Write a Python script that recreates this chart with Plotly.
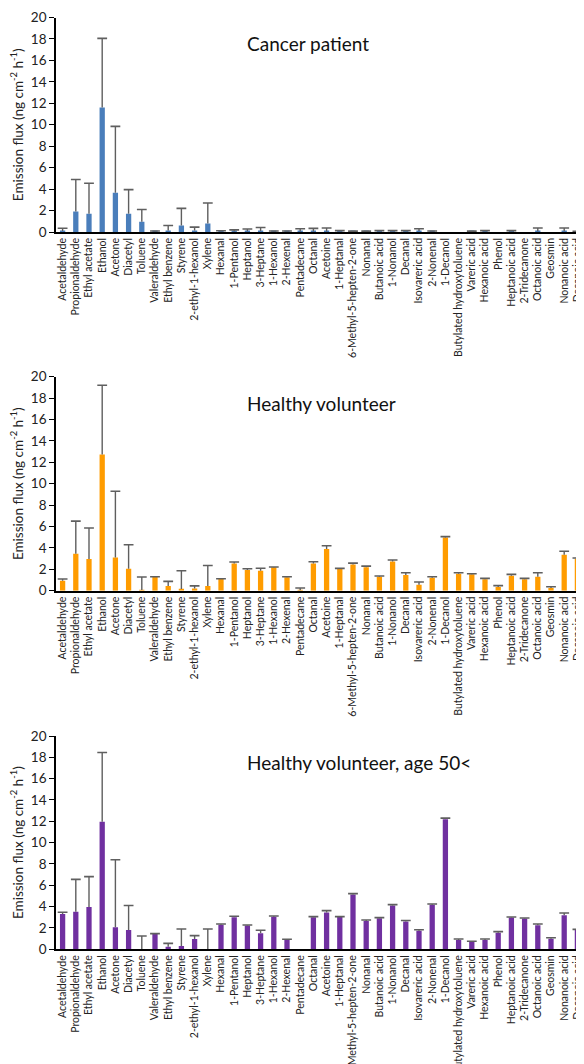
import plotly.graph_objects as go

categories = [
    "Acetaldehyde", "Propionaldehyde", "Ethyl acetate", "Ethanol", "Acetone", "Diacetyl",
    "Toluene", "Valeraldehyde", "Ethyl benzene", "Styrene", "2-ethyl-1-hexanol", "Xylene",
    "Hexanal", "1-Pentanol", "Heptanol", "3-Heptane", "1-Hexanol", "2-Hexenal",
    "Pentadecane", "Octanal", "Acetoine", "1-Heptanal", "6-Methyl-5-hepten-2-one", "Nonanal",
    "Butanoic acid", "1-Nonanol", "Decanal", "Isovareric acid", "2-Nonenal", "1-Decanol",
    "Butylated hydroxytoluene", "Vareric acid", "Hexanoic acid", "Phenol", "Heptanoic acid",
    "2-Tridecanone", "Octanoic acid", "Geosmin", "Nonanoic acid", "Decanoic acid",
]

cancer_vals = [0.1, 1.9, 1.7, 11.6, 3.65, 1.7, 0.95, 0.05, 0.15, 0.6, 0.15, 0.8,
               0.08, 0.05, 0.08, 0.1, 0.08, 0.08, 0.05, 0.05, 0.05, 0.1, 0.06, 0.06,
               0.1, 0.1, 0.1, 0.1, 0.08, 0, 0, 0.06, 0.1, 0, 0.1, 0, 0.08, 0, 0.08, 0.04]
cancer_err = [0.25, 3.0, 2.85, 6.45, 6.2, 2.25, 1.15, 0.05, 0.45, 1.6, 0.3, 1.9,
              0.04, 0.15, 0.2, 0.32, 0.02, 0.02, 0.25, 0.29, 0.32, 0.03, 0.02, 0.02,
              0.03, 0.03, 0.03, 0.2, 0.02, None, None, 0.02, 0.03, None, 0.03, None, 0.29, None, 0.29, 0.02]

healthy_vals = [0.93, 3.46, 2.96, 12.74, 3.1, 2.05, 0.06, 1.28, 0.45, 0.15, 0.2, 0.45,
                1.1, 2.55, 1.93, 1.87, 2.18, 1.25, 0.05, 2.55, 3.9, 2.02, 2.46, 2.18,
                1.31, 2.74, 1.46, 0.56, 1.21, 4.98, 1.59, 1.53, 1.06, 0.34, 1.4, 1.06,
                1.31, 0.25, 3.36, 2.99]
healthy_err = [0.17, 3.04, 2.9, 6.46, 6.2, 2.25, 1.22, 0.02, 0.42, 1.72, 0.25, 1.9,
               0.02, 0.13, 0.12, 0.23, 0.04, 0.05, 0.2, 0.15, 0.3, 0.07, 0.12, 0.12,
               0.06, 0.13, 0.22, 0.25, 0.1, 0.07, 0.09, 0.06, 0.09, 0.13, 0.13, 0.09,
               0.37, 0.12, 0.32, 0.06]

older_vals = [3.31, 3.53, 3.97, 11.97, 2.06, 1.81, 0.02, 1.44, 0.25, 0.3, 0.97, 0.02,
              2.31, 3.0, 2.22, 1.5, 3.05, 0.875, 0, 3.0, 3.45, 3.02, 5.15, 2.65,
              2.9, 4.1, 2.6, 1.75, 4.18, 12.2, 0.875, 0.69, 0.875, 1.56, 2.97, 2.88,
              2.25, 1.0, 3.2, 1.81]
older_err = [0.16, 3.03, 2.84, 6.48, 6.34, 2.29, 1.23, 0.03, 0.31, 1.6, 0.31, 1.88,
             0.06, 0.1, 0.06, 0.28, 0.07, 0.065, None, 0.06, 0.18, 0.04, 0.07, 0.1,
             0.07, 0.09, 0.1, 0.09, 0.07, 0.1, 0.095, 0.06, 0.095, 0.1, 0.06, 0.06,
             0.12, 0.09, 0.2, 0.06]

panel_titles = ["Cancer patient", "Healthy volunteer", "Healthy volunteer, age 50<"]
panel_colors = ["#4a7ebb", "#ff9c00", "#7030a0"]
panel_vals = [cancer_vals, healthy_vals, older_vals]
panel_errs = [cancer_err, healthy_err, older_err]

# the page body has an 8px default margin, so the figure is 8px smaller
W, H = 576, 1056
ML = 48
# pixel positions (figure coords, from top) of y=20 and y=0 for each panel
panel_px = [(9.5, 224.0), (368.7, 582.7), (728.0, 941.3)]
title_px_y = [35, 395, 754]
title_px_x = 237

err_color = "#5f5f5f"
FONT = "Lato"

fig = go.Figure()
layout = dict(
    width=W, height=H,
    margin=dict(l=ML, r=0, t=0, b=0),
    paper_bgcolor="white", plot_bgcolor="white",
    showlegend=False,
    bargap=0.6,
    font=dict(family=FONT, color="#222222"),
    annotations=[],
)

n = len(categories)
for i in range(3):
    sfx = "" if i == 0 else str(i + 1)
    xa, ya = "x" + sfx, "y" + sfx
    vals = panel_vals[i]
    errs = panel_errs[i]
    e_arr = [e if e is not None else 0 for e in errs]
    tops = [v + e if e is not None else None for v, e in zip(vals, errs)]
    fig.add_trace(go.Bar(
        x=categories, y=vals, xaxis=xa, yaxis=ya,
        marker=dict(color=panel_colors[i], line=dict(width=0)),
        error_y=dict(type="data", array=e_arr, arrayminus=[0] * len(vals),
                     symmetric=False, width=0, thickness=1.4, color=err_color),
    ))
    fig.add_trace(go.Scatter(
        x=categories, y=tops, xaxis=xa, yaxis=ya, mode="markers",
        marker=dict(symbol="line-ew", size=7, line=dict(width=1.6, color=err_color)),
        hoverinfo="skip",
    ))
    top_px, bot_px = panel_px[i]
    dom = [1 - bot_px / H, 1 - top_px / H]
    layout["xaxis" + sfx] = dict(
        domain=[0, 1], anchor=ya, type="category", range=[-0.5, n - 0.5],
        showline=True, linecolor="black", linewidth=1.6,
        ticks="", tickangle=-90, tickfont=dict(size=10.5, family=FONT, color="#222222"),
        showgrid=False, zeroline=False, automargin=False,
        categoryorder="array", categoryarray=categories,
    )
    layout["yaxis" + sfx] = dict(
        domain=dom, anchor=xa, range=[0, 20], dtick=2, tick0=0,
        showline=True, linecolor="black", linewidth=1.6,
        ticks="outside", ticklen=5, tickwidth=1.4, tickcolor="black",
        tickfont=dict(size=13.5, family=FONT, color="#222222"),
        showgrid=False, zeroline=False, automargin=False,
        title=dict(text="Emission flux (ng cm<sup>-2</sup> h<sup>-1</sup>)",
                   font=dict(size=13.5, family=FONT, color="#222222"), standoff=6),
    )
    layout["annotations"].append(dict(
        text=panel_titles[i], xref="paper", yref="paper",
        x=(title_px_x - ML) / (W - ML), y=1 - title_px_y[i] / H,
        xanchor="left", yanchor="middle", showarrow=False,
        font=dict(size=19, family=FONT, color="#111111"),
    ))

fig.update_layout(**layout)
fig.write_html("out.html")
